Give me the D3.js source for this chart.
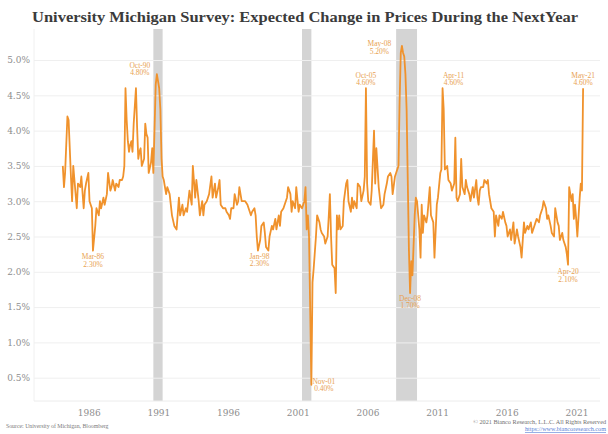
<!DOCTYPE html>
<html>
<head>
<meta charset="utf-8">
<script src="https://cdn.jsdelivr.net/npm/d3@7"></script>
<style>
  body { margin: 0; background: #fff; }
  svg text { font-family: "DejaVu Serif", "Liberation Serif", serif; }
</style>
</head>
<body>
<div id="chart"></div>
<script>
// tick labels
const yearTicks = [1986, 1991, 1996, 2001, 2006, 2011, 2016, 2021];
const pctTicks = [0.5, 1.0, 1.5, 2.0, 2.5, 3.0, 3.5, 4.0, 4.5, 5.0];

// recessions (shaded)
const recessions = [["1990-07", "1991-03"], ["2001-03", "2001-11"], ["2007-12", "2009-06"]];

// expected change in prices, %
const expected = [
  ["1984-01",3.5],["1984-02",3.2],["1984-03",3.4],["1984-05",4.2],["1984-06",4.15],["1984-08",3.35],["1984-09",3.0],["1984-10",3.5],["1984-11",3.3],
  ["1985-01",2.9],["1985-02",3.25],["1985-04",3.2],["1985-05",3.35],["1985-07",2.9],["1985-08",3.15],["1985-09",3.25],["1985-11",3.4],["1985-12",3.0],
  ["1986-02",2.9],["1986-03",2.3],["1986-05",2.65],["1986-06",2.9],["1986-08",2.8],["1986-09",3.0],["1986-10",2.9],["1986-12",3.05],
  ["1987-01",2.95],["1987-03",3.1],["1987-04",3.4],["1987-06",3.15],["1987-07",3.2],["1987-08",3.3],["1987-10",3.15],["1987-11",3.25],
  ["1988-01",3.2],["1988-02",3.3],["1988-04",3.3],["1988-05",3.35],["1988-06",3.5],["1988-07",4.6],["1988-08",4.15],["1988-09",3.85],["1988-10",3.7],["1988-11",3.8],["1988-12",3.85],
  ["1989-01",3.7],["1989-02",4.1],["1989-04",4.6],["1989-05",4.05],["1989-06",3.6],["1989-07",3.7],["1989-08",3.75],["1989-09",3.5],["1989-11",3.6],["1989-12",4.1],
  ["1990-01",3.95],["1990-02",3.9],["1990-03",3.4],["1990-05",3.55],["1990-06",3.75],["1990-07",3.4],["1990-09",4.65],["1990-10",4.8],["1990-11",4.7],["1990-12",4.6],
  ["1991-01",4.3],["1991-02",3.6],["1991-03",3.35],["1991-04",3.3],["1991-05",3.2],["1991-06",3.1],["1991-07",3.2],["1991-09",3.1],["1991-11",2.8],
  ["1992-01",2.65],["1992-03",2.6],["1992-05",3.05],["1992-06",2.8],["1992-08",2.95],["1992-09",2.8],["1992-11",2.9],["1992-12",2.85],
  ["1993-02",3.15],["1993-04",2.95],["1993-05",3.5],["1993-07",3.05],["1993-08",3.3],["1993-10",3.0],["1993-11",2.8],
  ["1994-01",3.0],["1994-02",2.8],["1994-03",2.95],["1994-05",3.0],["1994-07",3.1],["1994-09",3.35],["1994-10",3.05],["1994-12",3.25],
  ["1995-01",3.05],["1995-03",3.2],["1995-04",3.3],["1995-05",2.95],["1995-07",2.9],["1995-09",2.9],["1995-10",2.85],["1995-12",2.8],
  ["1996-01",2.75],["1996-02",2.9],["1996-04",2.9],["1996-05",3.1],["1996-07",2.95],["1996-08",3.0],["1996-09",3.2],["1996-11",3.0],["1996-12",3.0],
  ["1997-02",3.0],["1997-04",2.95],["1997-05",2.9],["1997-07",2.8],["1997-08",2.85],["1997-10",2.9],["1997-11",2.8],["1997-12",2.5],
  ["1998-01",2.3],["1998-03",2.45],["1998-04",2.65],["1998-06",2.7],["1998-07",2.55],["1998-08",2.35],["1998-10",2.3],["1998-11",2.5],
  ["1999-01",2.65],["1999-02",2.6],["1999-04",2.75],["1999-05",2.6],["1999-07",2.8],["1999-08",2.65],["1999-09",2.85],["1999-11",2.9],["1999-12",2.95],
  ["2000-02",3.05],["2000-03",3.2],["2000-05",3.1],["2000-06",2.85],["2000-07",3.0],["2000-09",2.9],["2000-10",3.2],["2000-12",2.85],
  ["2001-01",2.95],["2001-03",2.9],["2001-05",3.0],["2001-06",3.2],["2001-07",2.6],["2001-08",2.8],["2001-09",2.5],["2001-11",0.4],["2001-12",1.85],
  ["2002-01",2.05],["2002-03",2.5],["2002-04",2.8],["2002-06",2.7],["2002-07",2.6],["2002-08",2.55],["2002-10",2.5],["2002-11",2.4],
  ["2003-01",2.5],["2003-02",2.8],["2003-03",3.1],["2003-04",2.5],["2003-05",2.1],["2003-07",2.05],["2003-08",1.7],["2003-09",2.8],["2003-10",2.6],["2003-11",2.8],["2003-12",2.6],
  ["2004-02",2.65],["2004-03",3.0],["2004-05",3.25],["2004-06",3.3],["2004-07",3.0],["2004-09",2.85],["2004-10",3.05],["2004-11",2.9],["2004-12",3.0],
  ["2005-02",2.9],["2005-03",3.25],["2005-05",3.2],["2005-06",3.0],["2005-08",3.15],["2005-09",3.35],["2005-10",4.6],["2005-11",3.25],["2005-12",3.0],
  ["2006-02",2.95],["2006-03",3.15],["2006-05",4.0],["2006-06",3.25],["2006-07",3.75],["2006-09",3.2],["2006-10",3.05],["2006-11",2.9],
  ["2007-01",2.95],["2007-02",3.1],["2007-04",3.25],["2007-05",3.35],["2007-07",3.4],["2007-08",3.35],["2007-09",3.1],["2007-11",3.35],["2007-12",3.4],
  ["2008-02",3.5],["2008-03",4.4],["2008-04",5.1],["2008-05",5.2],["2008-06",5.1],["2008-07",5.05],["2008-08",4.8],["2008-09",4.3],["2008-10",3.3],["2008-11",2.3],["2008-12",1.7],
  ["2009-01",2.15],["2009-02",1.95],["2009-04",2.8],["2009-05",3.05],["2009-06",3.0],["2009-08",2.6],["2009-09",2.2],["2009-10",2.95],["2009-11",2.55],["2009-12",2.8],
  ["2010-02",2.7],["2010-03",2.8],["2010-05",3.2],["2010-06",2.8],["2010-08",2.7],["2010-09",2.2],["2010-11",2.95],["2010-12",3.05],
  ["2011-02",3.4],["2011-03",3.45],["2011-04",4.6],["2011-05",4.3],["2011-06",3.45],["2011-08",3.5],["2011-09",3.3],["2011-11",3.25],["2011-12",3.15],
  ["2012-02",3.25],["2012-03",3.9],["2012-04",3.05],["2012-05",3.0],["2012-07",3.1],["2012-08",3.6],["2012-09",3.2],["2012-11",3.1],["2012-12",3.3],
  ["2013-01",3.2],["2013-03",3.1],["2013-04",3.0],["2013-06",3.2],["2013-07",3.05],["2013-09",3.3],["2013-10",3.05],["2013-11",2.95],["2013-12",3.15],
  ["2014-01",3.2],["2014-03",3.2],["2014-04",3.3],["2014-06",3.25],["2014-07",3.3],["2014-08",3.1],["2014-10",2.9],["2014-12",2.85],
  ["2015-01",2.5],["2015-02",2.8],["2015-04",2.65],["2015-05",2.8],["2015-07",2.75],["2015-08",2.85],["2015-10",2.7],["2015-11",2.65],["2015-12",2.5],
  ["2016-02",2.6],["2016-03",2.45],["2016-05",2.7],["2016-06",2.4],["2016-08",2.6],["2016-09",2.5],["2016-11",2.35],["2016-12",2.2],
  ["2017-02",2.7],["2017-03",2.55],["2017-05",2.65],["2017-06",2.6],["2017-08",2.7],["2017-09",2.55],["2017-11",2.65],["2017-12",2.7],
  ["2018-01",2.75],["2018-03",2.7],["2018-04",2.8],["2018-06",2.9],["2018-07",3.0],["2018-09",2.9],["2018-10",2.75],["2018-11",2.8],
  ["2019-01",2.65],["2019-02",2.55],["2019-04",2.5],["2019-05",2.9],["2019-07",2.7],["2019-08",2.65],["2019-09",2.45],["2019-11",2.55],["2019-12",2.45],
  ["2020-02",2.35],["2020-03",2.25],["2020-04",2.1],["2020-05",3.2],["2020-07",3.0],["2020-08",3.1],["2020-09",2.75],["2020-10",2.95],["2020-11",2.75],["2020-12",2.5],
  ["2021-02",3.05],["2021-03",3.25],["2021-04",3.15],["2021-05",4.6]
];

// labelled extremes: month, label, value text
const callouts = [
  ["1986-03", "Mar-86", "2.30%"],
  ["1990-10", "Oct-90", "4.80%"],
  ["1998-01", "Jan-98", "2.30%"],
  ["2001-11", "Nov-01", "0.40%"],
  ["2005-10", "Oct-05", "4.60%"],
  ["2008-05", "May-08", "5.20%"],
  ["2008-12", "Dec-08", "1.70%"],
  ["2011-04", "Apr-11", "4.60%"],
  ["2020-04", "Apr-20", "2.10%"],
  ["2021-05", "May-21", "4.60%"]
];

let W = 608, H = 434;
let plot = {left: 34, right: 600, top: 29, bottom: 401};

let parseMonth = d3.timeParse("%Y-%m");
let data = expected.map(d => ({date: parseMonth(d[0]), value: d[1]}));

let x = d3.scaleTime()
    .domain([parseMonth("1984-01"), parseMonth("2021-05")])
    .range([62.8, 583.1]);
let y = d3.scaleLinear().domain([0, 5]).range([413, 60]);

let svg = d3.select("#chart")
    .append("svg")
    .attr("width", W)
    .attr("height", H);

svg.append("rect").attr("width", W).attr("height", H).attr("fill", "#fff");

// recession bars
svg.selectAll(".recession")
    .data(recessions)
    .enter().append("rect")
    .attr("class", "recession")
    .attr("x", d => x(parseMonth(d[0])))
    .attr("width", d => x(parseMonth(d[1])) - x(parseMonth(d[0])))
    .attr("y", plot.top)
    .attr("height", plot.bottom - plot.top)
    .attr("fill", "#d4d4d4");

// horizontal grid + y labels
let yAxis = d3.axisLeft(y)
    .tickValues(pctTicks)
    .tickSize(-(plot.right - plot.left))
    .tickPadding(4)
    .tickFormat(d => d.toFixed(1) + "%");

let gy = svg.append("g")
    .attr("transform", "translate(" + plot.left + ",0)")
    .call(yAxis);
gy.select(".domain").remove();
gy.selectAll(".tick line").attr("stroke", "#efefef").attr("stroke-width", 1);
gy.selectAll(".tick text")
    .attr("fill", "#8e8e8e")
    .style("font-size", "9px");

// faint frame lines
svg.append("line")
    .attr("x1", plot.left).attr("x2", plot.left)
    .attr("y1", plot.top).attr("y2", plot.bottom)
    .attr("stroke", "#f0f0f0");
svg.append("line")
    .attr("x1", plot.left).attr("x2", plot.right)
    .attr("y1", plot.bottom).attr("y2", plot.bottom)
    .attr("stroke", "#ececec");

// x labels
let xAxis = d3.axisBottom(x)
    .tickValues(yearTicks.map(yr => new Date(yr, 0, 1)))
    .tickSize(0)
    .tickPadding(9)
    .tickFormat(d3.timeFormat("%Y"));

let gx = svg.append("g")
    .attr("transform", "translate(0," + plot.bottom + ")")
    .call(xAxis);
gx.select(".domain").remove();
gx.selectAll(".tick text")
    .attr("fill", "#8e8e8e")
    .attr("dx", -2)
    .style("font-size", "9px");

// the series
let line = d3.line()
    .x(d => x(d.date))
    .y(d => y(d.value));

svg.append("path")
    .datum(data)
    .attr("fill", "none")
    .attr("stroke", "#f0922c")
    .attr("stroke-width", 1.8)
    .attr("stroke-linejoin", "round")
    .attr("d", line);

// callout offsets relative to the point
let offsets = {
  "Mar-86": [0, 8.5],
  "Oct-90": [-17, -6.6],
  "Jan-98": [1.5, 8],
  "Nov-01": [12.5, -0.8],
  "Oct-05": [0, -10.7],
  "May-08": [-22.5, 0.6],
  "Dec-08": [0, 8],
  "Apr-11": [11, -10.7],
  "Apr-20": [0, 9.3],
  "May-21": [0, -10.7]
};

let byMonth = new Map(expected.map(d => [d[0], d[1]]));

callouts.forEach(c => {
  let px = x(parseMonth(c[0])) + offsets[c[1]][0];
  let py = y(byMonth.get(c[0])) + offsets[c[1]][1];
  let t = svg.append("text")
      .attr("x", px)
      .attr("y", py)
      .attr("text-anchor", "middle")
      .attr("fill", "#e8a252")
      .style("font-family", "'Liberation Serif', serif")
      .style("font-size", "7.5px");
  t.append("tspan").attr("x", px).text(c[1]);
  t.append("tspan").attr("x", px).attr("dy", 7.5).text(c[2]);
});

// title
svg.append("text")
    .attr("x", 305)
    .attr("y", 22)
    .attr("text-anchor", "middle")
    .attr("textLength", 546)
    .attr("lengthAdjust", "spacingAndGlyphs")
    .attr("fill", "#3b3b3b")
    .style("font-family", "'Liberation Serif', serif")
    .style("font-weight", "bold")
    .style("font-size", "15px")
    .text("University Michigan Survey: Expected Change in Prices During the NextYear");

// footer
svg.append("text")
    .attr("x", 6)
    .attr("y", 428)
    .attr("fill", "#7a7a7a")
    .style("font-family", "'Liberation Serif', serif")
    .style("font-size", "5.8px")
    .text("Source: University of Michigan, Bloomberg");

svg.append("text")
    .attr("x", 606)
    .attr("y", 424)
    .attr("text-anchor", "end")
    .attr("fill", "#6f6f6f")
    .style("font-family", "'Liberation Serif', serif")
    .style("font-size", "6.2px")
    .text("\u00a9 2021 Bianco Research, L.L.C. All Rights Reserved");

svg.append("text")
    .attr("x", 606)
    .attr("y", 431)
    .attr("text-anchor", "end")
    .attr("fill", "#5b7fd6")
    .attr("text-decoration", "underline")
    .style("font-family", "'Liberation Serif', serif")
    .style("font-size", "6.2px")
    .text("https://www.biancoresearch.com");
</script>
</body>
</html>
